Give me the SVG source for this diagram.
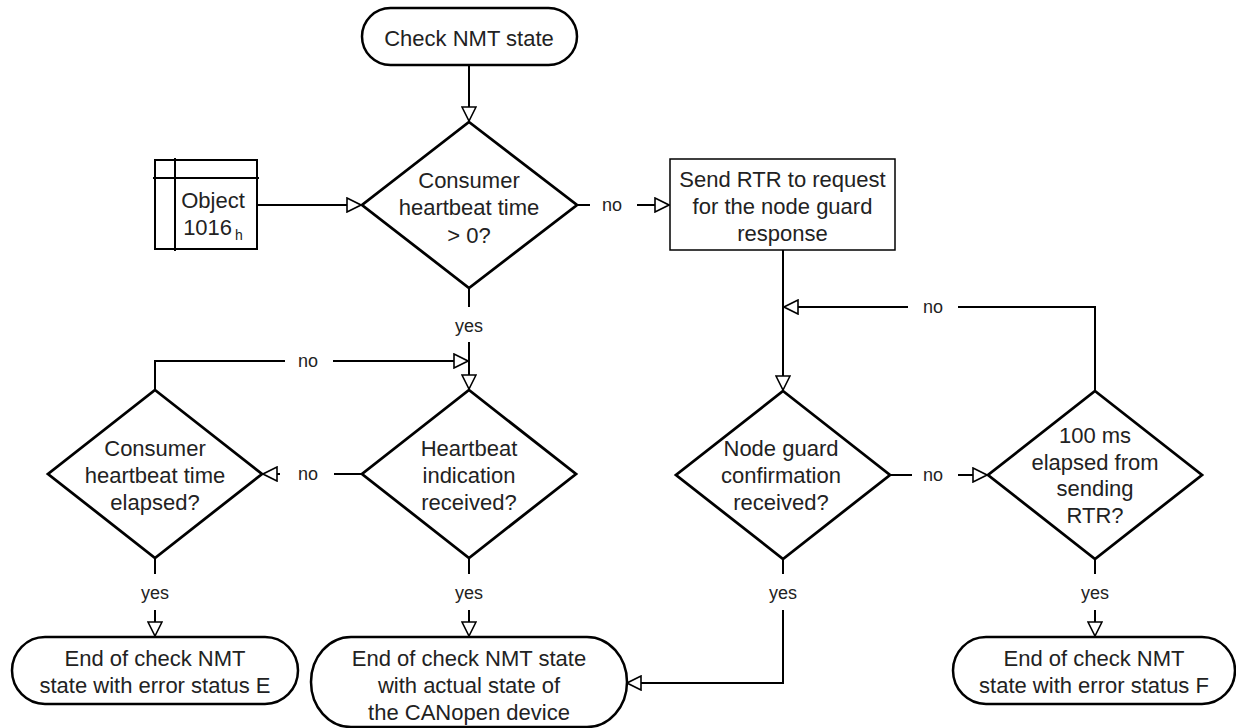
<svg xmlns="http://www.w3.org/2000/svg" width="1236" height="728" viewBox="0 0 1236 728">
<style>
text{font-family:"Liberation Sans",Arial,sans-serif;fill:#222;text-anchor:middle}
.t{font-size:22px}
.l{font-size:18px}
.term{fill:#fff;stroke:#000;stroke-width:2.5}
.dec{fill:#fff;stroke:#000;stroke-width:2.8}
.box{fill:#fff;stroke:#000;stroke-width:1.5}
.obj{fill:#fff;stroke:#000;stroke-width:2}
.c{fill:none;stroke:#000;stroke-width:2}
.a{marker-end:url(#ah)}
</style>
<defs>
<marker id="ah" markerUnits="userSpaceOnUse" markerWidth="16" markerHeight="16" viewBox="-1 -1 16 16" refX="14" refY="7" orient="auto">
<path d="M0,0 L14,7 L0,14 z" fill="#fff" stroke="#000" stroke-width="1.6"/>
</marker>
</defs>
<rect width="1236" height="728" fill="#fff"/>
<g id="connectors">
<path class="c a" d="M469,65 V121"/>
<path class="c a" d="M257,205 H361"/>
<path class="c" d="M577,205 H590"/>
<path class="c a" d="M637,205 H669"/>
<path class="c a" d="M783,250 V390"/>
<path class="c" d="M1095,391 V307 H958"/>
<path class="c a" d="M908,307 H784"/>
<path class="c" d="M890,475 H912"/>
<path class="c a" d="M958,475 H987"/>
<path class="c" d="M469,288 V307"/>
<path class="c a" d="M469,342 V389"/>
<path class="c" d="M155,390 V361 H285"/>
<path class="c a" d="M333,361 H468"/>
<path class="c" d="M362,474 H334"/>
<path class="c a" d="M280,474 H263"/>
<path class="c" d="M155,558 V574"/>
<path class="c a" d="M155,610 V636"/>
<path class="c" d="M469,558 V574"/>
<path class="c a" d="M469,610 V636"/>
<path class="c" d="M783,559 V574"/>
<path class="c a" d="M783,610 V683 H627"/>
<path class="c" d="M1095,559 V574"/>
<path class="c a" d="M1095,610 V636"/>
<text class="l" x="612" y="211">no</text>
<text class="l" x="933" y="313">no</text>
<text class="l" x="933" y="481">no</text>
<text class="l" x="469" y="332">yes</text>
<text class="l" x="308" y="367">no</text>
<text class="l" x="308" y="480">no</text>
<text class="l" x="155" y="599">yes</text>
<text class="l" x="469" y="599">yes</text>
<text class="l" x="783" y="599">yes</text>
<text class="l" x="1095" y="599">yes</text>
</g>
<g id="start">
<rect class="term" x="362" y="8" width="215" height="57" rx="28.5"/>
<text class="t" x="469" y="46">Check NMT state</text>
</g>
<g id="object1016">
<rect class="obj" x="155" y="160" width="102" height="89"/>
<path class="c" d="M175,158 V251 M153,178 H259"/>
<text class="t" x="213" y="208">Object</text>
<text class="t" x="213" y="235">1016<tspan font-size="14" dx="3" dy="5">h</tspan></text>
</g>
<g id="d-consumer-gt0">
<polygon class="dec" points="469,122 577,205 469,288 362,205"/>
<text class="t" x="469" y="188">Consumer</text>
<text class="t" x="469" y="215">heartbeat time</text>
<text class="t" x="469" y="243">&gt; 0?</text>
</g>
<g id="send-rtr">
<rect class="box" x="670" y="159" width="225" height="91"/>
<text class="t" x="782.5" y="187">Send RTR to request</text>
<text class="t" x="782.5" y="214">for the node guard</text>
<text class="t" x="782.5" y="241">response</text>
</g>
<g id="d-consumer-elapsed">
<polygon class="dec" points="155,390 262,474 155,558 48,474"/>
<text class="t" x="155" y="456">Consumer</text>
<text class="t" x="155" y="483">heartbeat time</text>
<text class="t" x="155" y="510">elapsed?</text>
</g>
<g id="d-heartbeat">
<polygon class="dec" points="469,390 576,474 469,558 362,474"/>
<text class="t" x="469" y="456">Heartbeat</text>
<text class="t" x="469" y="483">indication</text>
<text class="t" x="469" y="510">received?</text>
</g>
<g id="d-nodeguard">
<polygon class="dec" points="783,391 890,475 783,559 676,475"/>
<text class="t" x="781" y="456">Node guard</text>
<text class="t" x="781" y="483">confirmation</text>
<text class="t" x="781" y="510">received?</text>
</g>
<g id="d-100ms">
<polygon class="dec" points="1095,391 1202,475 1095,559 988,475"/>
<text class="t" x="1095" y="443">100 ms</text>
<text class="t" x="1095" y="470">elapsed from</text>
<text class="t" x="1095" y="496">sending</text>
<text class="t" x="1095" y="523">RTR?</text>
</g>
<g id="end-e">
<rect class="term" x="12" y="637" width="286" height="67" rx="33" ry="33.5"/>
<text class="t" x="155" y="666">End of check NMT</text>
<text class="t" x="155" y="693">state with error status E</text>
</g>
<g id="end-actual">
<rect class="term" x="311" y="637" width="316" height="90" rx="40" ry="45"/>
<text class="t" x="469" y="666">End of check NMT state</text>
<text class="t" x="469" y="693">with actual state of</text>
<text class="t" x="469" y="720">the CANopen device</text>
</g>
<g id="end-f">
<rect class="term" x="953" y="637" width="282" height="67" rx="33" ry="33.5"/>
<text class="t" x="1094" y="666">End of check NMT</text>
<text class="t" x="1094" y="693">state with error status F</text>
</g>
</svg>
